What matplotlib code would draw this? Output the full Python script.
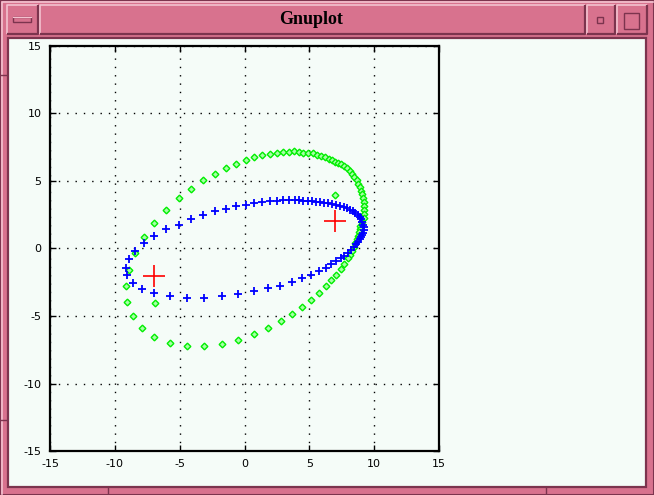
import matplotlib
matplotlib.use("Agg")
import matplotlib.pyplot as plt
from matplotlib.patches import Rectangle

plt.rcParams['axes.unicode_minus'] = False

# ---- data ----
blue_x = [2.52, 1.93, 1.33, 0.72, 0.10, -0.67, -1.44, -2.29, -3.18, -4.14, -5.06, -6.07, -6.99, -7.76,
          -8.45, -8.92, -9.15, -9.07, -8.61, -7.92, -6.99, -5.76, -4.45, -3.14, -1.75, -0.52, 0.72, 1.79, 2.70,
          2.95, 3.42, 3.88, 4.19, 4.50, 4.88, 5.19, 5.50, 5.81, 6.12, 6.43, 6.73, 7.04, 7.35,
          7.66, 7.92, 8.12, 8.33, 8.54, 8.74, 8.90, 9.00, 9.10, 9.15, 9.20, 9.20, 9.12, 9.04, 8.97, 8.87,
          8.74, 8.58, 8.43, 8.20, 7.96, 7.69, 7.43, 7.04, 6.66, 6.27, 5.73, 5.11, 4.42, 3.65]
blue_y = [3.52, 3.50, 3.42, 3.37, 3.20, 3.13, 2.90, 2.76, 2.46, 2.17, 1.77, 1.42, 0.91, 0.39,
          -0.20, -0.78, -1.47, -1.99, -2.58, -3.03, -3.33, -3.53, -3.63, -3.63, -3.53, -3.40, -3.16, -2.93, -2.76,
          3.57, 3.57, 3.57, 3.57, 3.54, 3.50, 3.50, 3.44, 3.42, 3.39, 3.35, 3.30, 3.24, 3.17,
          3.07, 2.98, 2.87, 2.78, 2.63, 2.48, 2.31, 2.16, 1.96, 1.76, 1.57, 1.37, 1.17, 1.02, 0.85, 0.68,
          0.50, 0.31, 0.09, -0.11, -0.31, -0.56, -0.73, -0.95, -1.17, -1.42, -1.69, -1.94, -2.19, -2.46]

green_x = [-8.61, -9.04, -9.15, -8.92, -8.46, -7.76, -6.99, -6.07, -5.07, -4.14, -3.18, -2.29, -1.44, -0.67,
           0.12, 0.72, 1.33, 1.94, 2.51, 2.95, 3.42, 3.83, 4.19, 4.50, 4.88, 5.27, 5.57, 5.88, 6.22, 6.48,
           6.73, 6.96, 7.19, 7.42, 7.66, 7.89, 8.12, 8.30, 8.46, 8.64, 8.79, 8.89, 9.00, 9.07, 9.15, 9.20,
           9.23, 9.25, 9.25, 9.20, 9.06, 8.94, 8.89, 8.84, 8.77, 8.66, 8.56, 8.43, 8.30, 8.15, 7.96, 7.71,
           7.42, 7.04, 6.68, 6.25, 5.73, 5.11, 4.42, 3.68, 2.80, 1.80, 0.72, -0.52, -1.75, -3.14, -4.45,
           -5.76, -6.99, -7.92, -6.92, 6.96]
green_y = [-5.02, -3.99, -2.80, -1.61, -0.36, 0.83, 1.87, 2.83, 3.72, 4.39, 5.05, 5.50, 5.94, 6.24,
           6.53, 6.76, 6.90, 6.99, 7.05, 7.13, 7.13, 7.20, 7.13, 7.10, 7.07, 7.05, 6.95, 6.87, 6.76, 6.65,
           6.53, 6.41, 6.33, 6.26, 6.09, 5.94, 5.74, 5.54, 5.30, 5.05, 4.80, 4.56, 4.26, 4.01, 3.72, 3.44,
           3.15, 2.85, 2.56, 2.26, 1.93, 1.67, 1.42, 1.20, 0.95, 0.68, 0.43, 0.13, -0.16, -0.46, -0.73, -1.15,
           -1.50, -1.94, -2.36, -2.80, -3.32, -3.84, -4.36, -4.85, -5.39, -5.91, -6.36, -6.80, -7.10, -7.24, -7.24,
           -7.02, -6.58, -5.91, -4.06, 3.96]

center_x = [-7, 7]
center_y = [-2, 2]

ticks = [-15, -10, -5, 0, 5, 10, 15]
window_title = "Gnuplot"

# ---- figure ----
W, H = 654, 495
fig = plt.figure(figsize=(W / 100, H / 100), dpi=100)

bg = fig.add_axes([0, 0, 1, 1])
bg.set_xlim(0, W)
bg.set_ylim(H, 0)
bg.axis('off')

pink = '#d8728e'
light = '#f3c2d0'
dark = '#7c344e'

bg.add_patch(Rectangle((0, 0), W, H, facecolor=pink, edgecolor=dark, lw=1.5))


def bevel(x, y, w, h, fc=pink):
    bg.add_patch(Rectangle((x, y), w, h, facecolor=fc, edgecolor='none'))
    bg.plot([x, x, x + w], [y + h, y, y], color=light, lw=1.2, solid_capstyle='butt')
    bg.plot([x, x + w, x + w], [y + h, y + h, y], color=dark, lw=1.6, solid_capstyle='butt')


bg.plot([1.5, 1.5, W - 1.5], [H - 1.5, 1.5, 1.5], color=light, lw=1.2)
bevel(7, 5, 31, 29)
bevel(40, 5, 545, 29)
bevel(587, 5, 28, 29)
bevel(617, 5, 30, 29)
bg.add_patch(Rectangle((13, 17), 18, 5, facecolor=pink, edgecolor=dark, lw=1))
bg.plot([13, 31], [17, 17], color=light, lw=0.8)
bg.add_patch(Rectangle((597, 17), 6, 6, facecolor=pink, edgecolor=dark, lw=1))
bg.add_patch(Rectangle((624, 13), 15, 16, facecolor=pink, edgecolor=dark, lw=1))
bg.text(311, 20, window_title, ha='center', va='center', fontsize=13,
        fontweight='bold', family='Liberation Serif', color='black')

bg.add_patch(Rectangle((8, 38), W - 16, H - 46, facecolor='#f5fcf8', edgecolor=dark, lw=1.6))
for xx in (108, 546):
    bg.plot([xx, xx], [488, H], color=dark, lw=1)
for yy in (75, 420):
    bg.plot([0, 7], [yy, yy], color=dark, lw=1)

# ---- plot ----
ax = fig.add_axes([50 / W, 1 - 451 / H, 389 / W, 405 / H])
ax.set_facecolor('#f5fcf8')
ax.set_xlim(-15, 15)
ax.set_ylim(-15, 15)
ax.set_xticks(ticks)
ax.set_yticks(ticks)
ax.tick_params(direction='in', length=4, width=1, top=True, right=True,
               labelsize=8, colors='black', pad=6)
for s in ax.spines.values():
    s.set_linewidth(1.6)
    s.set_color('black')
ax.grid(True, color='black', linestyle=(0, (1, 5)), linewidth=1)
ax.set_axisbelow(True)

ax.plot(green_x, green_y, linestyle='none', marker='D', ms=3.4, mfc='#a8ffa8',
        mec='#00ee00', mew=1.0)
ax.plot(blue_x, blue_y, linestyle='none', marker='+', ms=5.5, mew=1.3, color='#0000ff')
ax.plot(center_x, center_y, linestyle='none', marker='+', ms=16, mew=1.2, color='#ff0000')

fig.savefig('out.png', dpi=100, facecolor=pink)
